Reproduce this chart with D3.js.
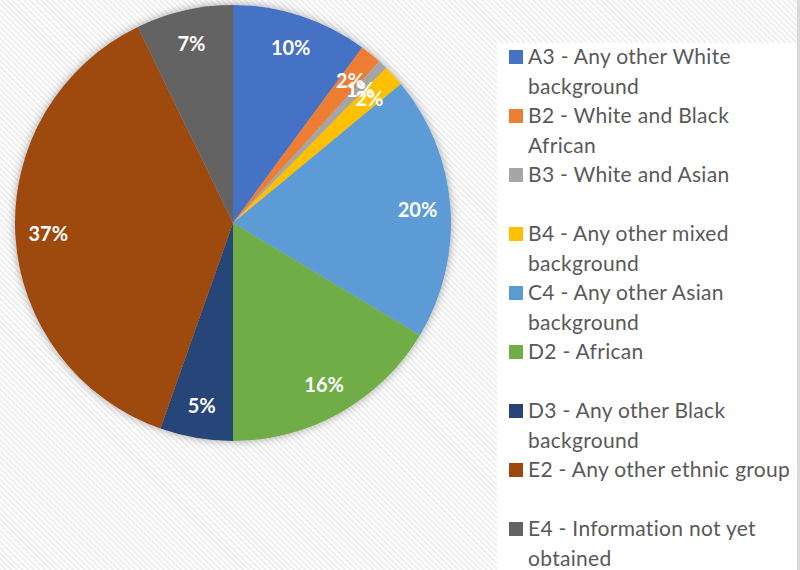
<!DOCTYPE html>
<html>
<head>
<meta charset="utf-8">
<script src="https://cdn.jsdelivr.net/npm/d3@7"></script>
<style>
  html, body { margin: 0; padding: 0; background: #fff; }
  svg { display: block; }
</style>
</head>
<body>
<svg id="chart" width="800" height="570"></svg>
<script>
// ---- data ----
const categories = [
  "A3 - Any other White background",
  "B2 - White and Black African",
  "B3 - White and Asian",
  "B4 - Any other mixed background",
  "C4 - Any other Asian background",
  "D2 - African",
  "D3 - Any other Black background",
  "E2 - Any other ethnic group",
  "E4 - Information not yet obtained"
];
const legendLines = [
  ["A3 - Any other White", "background"],
  ["B2 - White and Black", "African"],
  ["B3 - White and Asian"],
  ["B4 - Any other mixed", "background"],
  ["C4 - Any other Asian", "background"],
  ["D2 - African"],
  ["D3 - Any other Black", "background"],
  ["E2 - Any other ethnic group"],
  ["E4 - Information not yet", "obtained"]
];
const values = [10.1, 1.6, 0.7, 1.6, 19.6, 16.4, 5.4, 37.4, 7.2];
const colors = ["#4472C4", "#ED7D31", "#A5A5A5", "#FFC000", "#5B9BD5",
                "#70AD47", "#264478", "#9E480E", "#636363"];

// ---- drawing ----
const svg = d3.select("#chart");
const W = 800, H = 570;
const defs = svg.append("defs");

const pat = defs.append("pattern")
  .attr("id", "stripes").attr("patternUnits", "userSpaceOnUse")
  .attr("width", 4).attr("height", 4)
  .attr("patternTransform", "rotate(-45)");
pat.append("rect").attr("width", 4).attr("height", 4).attr("fill", "#ffffff");
pat.append("rect").attr("width", 2).attr("height", 4).attr("fill", "#eeeeee");

const shadow = defs.append("filter").attr("id", "shadow")
  .attr("x", "-20%").attr("y", "-20%").attr("width", "140%").attr("height", "140%");
shadow.append("feGaussianBlur").attr("in", "SourceAlpha").attr("stdDeviation", 5).attr("result", "b");
shadow.append("feOffset").attr("in", "b").attr("dx", 0).attr("dy", 0).attr("result", "o");
shadow.append("feComponentTransfer").attr("in", "o").attr("result", "s")
  .append("feFuncA").attr("type", "linear").attr("slope", 0.35);
const merge = shadow.append("feMerge");
merge.append("feMergeNode").attr("in", "s");
merge.append("feMergeNode").attr("in", "SourceGraphic");

svg.append("rect").attr("width", W).attr("height", H).attr("fill", "url(#stripes)");

// pie
const cx = 233, cy = 223, R = 218, labelR = 185;
const color = d3.scaleOrdinal().domain(categories).range(colors);
const total = d3.sum(values);
const pie = d3.pie().sort(null).value(d => d.v);
const arcs = pie(categories.map((c, i) => ({ c, v: values[i] })));
const arc = d3.arc().innerRadius(0).outerRadius(R);
const labelArc = d3.arc().innerRadius(labelR).outerRadius(labelR);

const g = svg.append("g").attr("transform", `translate(${cx},${cy})`);
const slices = g.append("g").attr("filter", "url(#shadow)");
slices.selectAll("path").data(arcs).join("path")
  .attr("d", arc)
  .attr("fill", d => color(d.data.c));

const fmt = d3.format(".0%");
g.selectAll("text.lbl").data(arcs).join("text")
  .attr("class", "lbl")
  .attr("transform", d => `translate(${labelArc.centroid(d)})`)
  .attr("text-anchor", "middle")
  .attr("dominant-baseline", "central")
  .attr("font-family", "Lato, 'Open Sans', sans-serif")
  .attr("font-weight", "bold")
  .attr("font-size", 20)
  .attr("fill", "#ffffff")
  .text(d => fmt(d.data.v / total));

// legend
svg.append("rect").attr("x", 497).attr("y", 43).attr("width", 300).attr("height", H - 43)
  .attr("fill", "#ffffff");
svg.append("rect").attr("x", 797).attr("y", 0).attr("width", 3).attr("height", H)
  .attr("fill", "#d9d9d9");

const legY = d3.scalePoint().domain(categories).range([57, 529]);
const lg = svg.append("g");
const items = lg.selectAll("g").data(categories).join("g")
  .attr("transform", c => `translate(509,${legY(c)})`);
items.append("rect").attr("x", 0).attr("y", -7).attr("width", 14).attr("height", 14)
  .attr("fill", c => color(c));
items.each(function(c, i) {
  const t = d3.select(this).append("text")
    .attr("x", 19).attr("y", 0)
    .attr("font-family", "Lato, 'Open Sans', sans-serif")
    .attr("font-size", 21)
    .attr("letter-spacing", 0.3)
    .attr("fill", "#595959");
  legendLines[i].forEach((line, j) => {
    t.append("tspan").attr("x", 19).attr("y", j * 29.4).attr("dy", "0.35em").text(line);
  });
});
</script>
</body>
</html>
